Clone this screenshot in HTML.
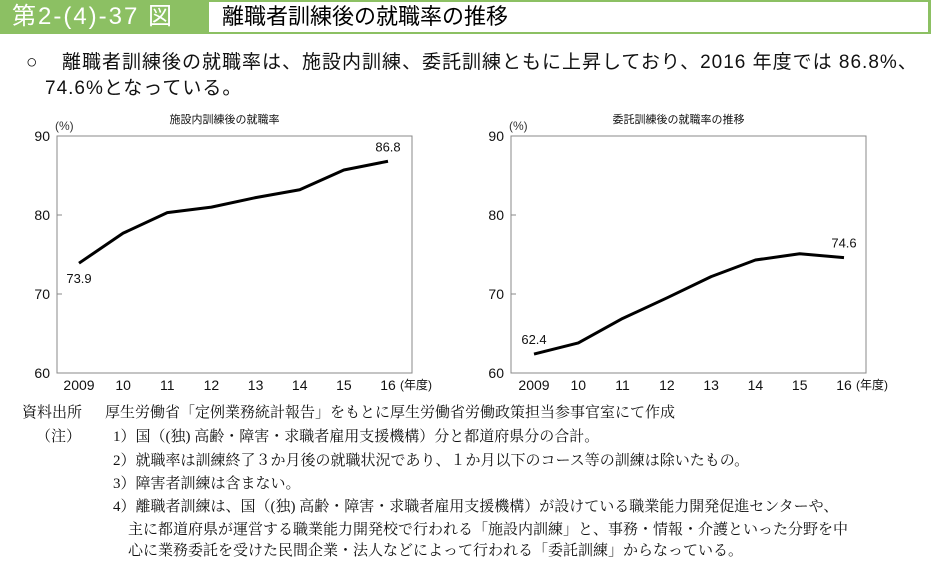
<!DOCTYPE html>
<html><head><meta charset="utf-8">
<style>
html,body{margin:0;padding:0;background:#fff;}
body{width:933px;height:558px;overflow:hidden;position:relative;font-family:"Liberation Sans","Noto Sans CJK JP",sans-serif;}
.abs{position:absolute;white-space:nowrap;}
.note{position:absolute;white-space:nowrap;font-family:"Liberation Serif","Noto Serif CJK SC",serif;font-size:15px;color:#111;line-height:20px;}
</style></head><body>
<div class="abs" style="left:0;top:0;width:931px;height:34px;background:#8cc063;"></div>
<div class="abs" style="left:12px;top:3px;font-size:24px;letter-spacing:2px;color:#fff;line-height:28px;">第2-(4)-37 図</div>
<div class="abs" style="left:209px;top:2px;width:719px;height:30px;background:#fff;"></div>
<div class="abs" style="left:222px;top:3px;font-size:22px;color:#000;line-height:28px;">離職者訓練後の就職率の推移</div>
<div class="abs" style="left:26px;top:50px;font-size:19px;line-height:26px;color:#111;">○</div>
<div class="abs" style="left:62px;top:50px;font-size:19px;line-height:26px;letter-spacing:1px;color:#111;">離職者訓練後の就職率は、施設内訓練、委託訓練ともに上昇しており、2016 年度では 86.8%、</div>
<div class="abs" style="left:45px;top:76px;font-size:19px;line-height:26px;letter-spacing:1px;color:#111;">74.6%となっている。</div>

<svg class="abs" style="left:0;top:0" width="933" height="558">
<g id="c1"></g>
<g id="c2"></g>
</svg>

<div class="note" style="left:22px;top:403px;">資料出所</div>
<div class="note" style="left:105px;top:403px;">厚生労働省「定例業務統計報告」をもとに厚生労働省労働政策担当参事官室にて作成</div>
<div class="note" style="left:36px;top:427px;">（注）</div>
<div class="note" style="left:113px;top:427px;">1）国（(独) 高齢・障害・求職者雇用支援機構）分と都道府県分の合計。</div>
<div class="note" style="left:113px;top:451px;">2）就職率は訓練終了３か月後の就職状況であり、１か月以下のコース等の訓練は除いたもの。</div>
<div class="note" style="left:113px;top:474px;">3）障害者訓練は含まない。</div>
<div class="note" style="left:113px;top:497px;">4）離職者訓練は、国（(独) 高齢・障害・求職者雇用支援機構）が設けている職業能力開発促進センターや、</div>
<div class="note" style="left:128px;top:520px;">主に都道府県が運営する職業能力開発校で行われる「施設内訓練」と、事務・情報・介護といった分野を中</div>
<div class="note" style="left:128px;top:541px;">心に業務委託を受けた民間企業・法人などによって行われる「委託訓練」からなっている。</div>

<script>
const years = ["2009","10","11","12","13","14","15","16"];
const yTicks = [60,70,80,90];
const facilityRates = [73.9,77.7,80.3,81.0,82.2,83.2,85.7,86.8];
const commissionedRates = [62.4,63.8,66.9,69.5,72.2,74.3,75.1,74.6];
const facilityTitle = "施設内訓練後の就職率";
const commissionedTitle = "委託訓練後の就職率の推移";

const NS="http://www.w3.org/2000/svg";
function mk(parent,tag,attrs,text){const e=document.createElementNS(NS,tag);for(const k in attrs)e.setAttribute(k,attrs[k]);if(text!==undefined)e.textContent=text;parent.appendChild(e);return e;}

function drawChart(g,left,right,firstX,lastX,title,values,firstLabelAbove){
  const top=136,bottom=373,yMin=60,yMax=90;
  const y=v=>bottom-(v-yMin)/(yMax-yMin)*(bottom-top);
  const x=i=>firstX+i*(lastX-firstX)/(years.length-1);
  const frame=mk(g,'rect',{x:left,y:top,width:right-left,height:bottom-top,fill:'none',stroke:'#888','stroke-width':1});
  
  
  const t=mk(g,'text',{x:(left+right)/2-10,y:123,'font-size':11,'text-anchor':'middle',fill:'#111'},title);
  
  
  const u=mk(g,'text',{x:left-2,y:130,'font-size':12,fill:'#333'},'(%)');
  
  
  yTicks.forEach(v=>{
    const tl=mk(g,'text',{x:left-7,y:y(v)+5,'font-size':14,'text-anchor':'end',fill:'#111'},String(v));
    
    
    if(v>yMin&&v<yMax){const tk=mk(g,'line',{x1:left,x2:left+5,y1:y(v),y2:y(v),stroke:'#888'});
      
      }
  });
  years.forEach((yr,i)=>{
    const xl=mk(g,'text',{x:x(i),y:390,'font-size':14,'text-anchor':'middle',fill:'#111'},yr);
    
    
  });
  const yu=mk(g,'text',{x:x(years.length-1)+12,y:389,'font-size':12,fill:'#111'},'(年度)');
  
  
  const pts=values.map((v,i)=>x(i)+','+y(v)).join(' ');
  const line=mk(g,'polyline',{points:pts,fill:'none',stroke:'#000','stroke-width':3,'stroke-linejoin':'round'});
  
  
  const n=values.length-1;
  const fl=mk(g,'text',{x:x(0),y:firstLabelAbove?y(values[0])-10:y(values[0])+20,'font-size':13,'text-anchor':'middle',fill:'#111'},values[0].toFixed(1));
  
  
  const ll=mk(g,'text',{x:x(n),y:y(values[n])-10,'font-size':13,'text-anchor':'middle',fill:'#111'},values[n].toFixed(1));
  
  
}
drawChart(document.getElementById('c1'),57,412,79,388,facilityTitle,facilityRates,false);
drawChart(document.getElementById('c2'),511,866,534,844,commissionedTitle,commissionedRates,true);
</script>
</body></html>
